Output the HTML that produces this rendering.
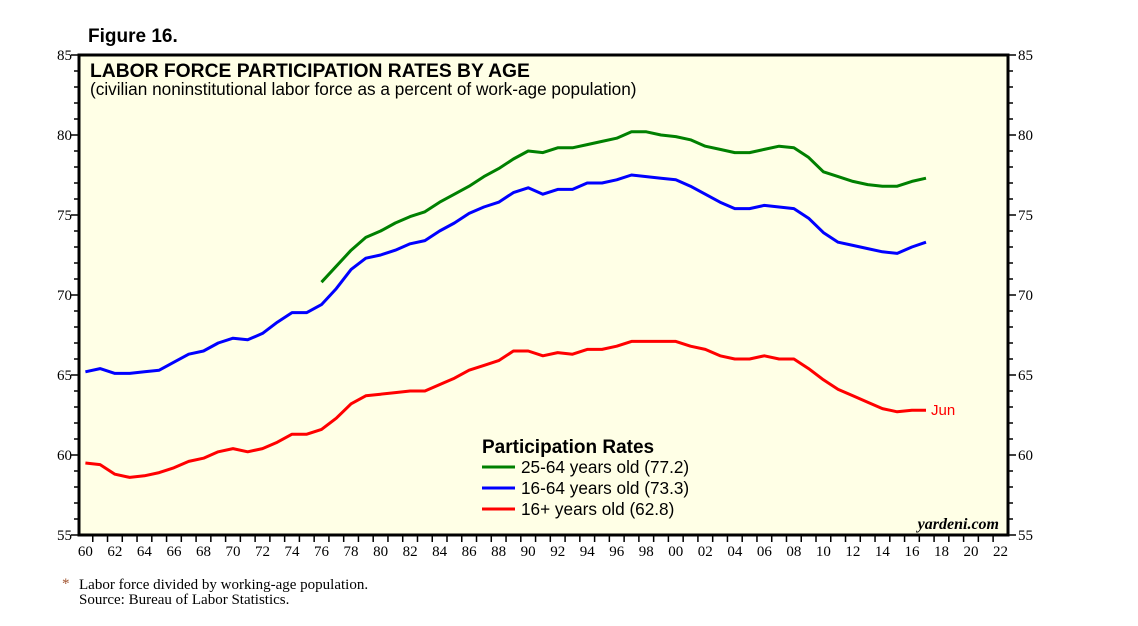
<!DOCTYPE html>
<html><head><meta charset="utf-8"><style>
body{margin:0;background:#fff;}
svg text{font-family:"Liberation Sans",Arial,sans-serif;}
</style></head><body>
<svg id="c" width="1138" height="621" xmlns="http://www.w3.org/2000/svg">
<text x="88" y="42" font-size="19" font-weight="bold">Figure 16.</text>
<rect x="79" y="55" width="929" height="480" fill="#ffffe6" stroke="#000" stroke-width="3"/>
<text x="90" y="77" font-size="19.3" font-weight="bold">LABOR FORCE PARTICIPATION RATES BY AGE</text>
<text x="90" y="95" font-size="17.2">(civilian noninstitutional labor force as a percent of work-age population)</text>
<g id="axes"></g>
<g id="series"></g>
<text x="931" y="415" font-size="15" fill="#ff0000">Jun</text>
<g>
<text x="482" y="453" font-size="19" font-weight="bold">Participation Rates</text>
<line x1="482" y1="467" x2="515" y2="467" stroke="#008000" stroke-width="3"/>
<text x="521" y="473" font-size="17.2">25-64 years old (77.2)</text>
<line x1="482" y1="488" x2="515" y2="488" stroke="#0000ff" stroke-width="3"/>
<text x="521" y="494" font-size="17.2">16-64 years old (73.3)</text>
<line x1="482" y1="509" x2="515" y2="509" stroke="#ff0000" stroke-width="3"/>
<text x="521" y="515" font-size="17.2">16+ years old (62.8)</text>
</g>
<text x="999" y="529" font-size="16" font-style="italic" font-weight="bold" text-anchor="end" style="font-family:'Liberation Serif',serif">yardeni.com</text>
<text x="62" y="588" font-size="15" fill="#a0522d" style="font-family:'Liberation Serif',serif">*</text>
<text x="79" y="589" font-size="15" style="font-family:'Liberation Serif',serif">Labor force divided by working-age population.</text>
<text x="79" y="604" font-size="15" style="font-family:'Liberation Serif',serif">Source: Bureau of Labor Statistics.</text>
</svg>
<script>
const years=[];for(let y=1960;y<=2017;y++)years.push(y);
const red=[59.5,59.4,58.8,58.6,58.7,58.9,59.2,59.6,59.8,60.2,60.4,60.2,60.4,60.8,61.3,61.3,61.6,62.3,63.2,63.7,63.8,63.9,64.0,64.0,64.4,64.8,65.3,65.6,65.9,66.5,66.5,66.2,66.4,66.3,66.6,66.6,66.8,67.1,67.1,67.1,67.1,66.8,66.6,66.2,66.0,66.0,66.2,66.0,66.0,65.4,64.7,64.1,63.7,63.3,62.9,62.7,62.8,62.8];
const blue=[65.2,65.4,65.1,65.1,65.2,65.3,65.8,66.3,66.5,67.0,67.3,67.2,67.6,68.3,68.9,68.9,69.4,70.4,71.6,72.3,72.5,72.8,73.2,73.4,74.0,74.5,75.1,75.5,75.8,76.4,76.7,76.3,76.6,76.6,77.0,77.0,77.2,77.5,77.4,77.3,77.2,76.8,76.3,75.8,75.4,75.4,75.6,75.5,75.4,74.8,73.9,73.3,73.1,72.9,72.7,72.6,73.0,73.3];
const greenYears=[];for(let y=1976;y<=2017;y++)greenYears.push(y);
const green=[70.8,71.8,72.8,73.6,74.0,74.5,74.9,75.2,75.8,76.3,76.8,77.4,77.9,78.5,79.0,78.9,79.2,79.2,79.4,79.6,79.8,80.2,80.2,80.0,79.9,79.7,79.3,79.1,78.9,78.9,79.1,79.3,79.2,78.6,77.7,77.4,77.1,76.9,76.8,76.8,77.1,77.3];
const yTicks=[55,60,65,70,75,80,85];
const xLabels=["60","62","64","66","68","70","72","74","76","78","80","82","84","86","88","90","92","94","96","98","00","02","04","06","08","10","12","14","16","18","20","22"];
const NS="http://www.w3.org/2000/svg";
const X=y=>78+(y-1960)*14.76;
const Y=v=>55+(85-v)*16;
function mk(t,a,p){const e=document.createElementNS(NS,t);for(const k in a)e.setAttribute(k,a[k]);p.appendChild(e);return e;}
const ax=document.getElementById('axes');
for(let v=55;v<=85;v++){const maj=v%5===0;
 const l=mk('line',{x1:79-(maj?8:5),x2:79,y1:Y(v),y2:Y(v),stroke:'#000','stroke-width':1.5},ax);
 
 
 const r=mk('line',{x1:1008,x2:1008+(maj?8:5),y1:Y(v),y2:Y(v),stroke:'#000','stroke-width':1.5},ax);
 
 }
yTicks.forEach(v=>{
 const t=mk('text',{x:72,y:Y(v)+5,'font-size':15,'text-anchor':'end',style:"font-family:'Liberation Serif',serif"},ax);t.textContent=v;
 
 
 const t2=mk('text',{x:1018,y:Y(v)+5,'font-size':15,style:"font-family:'Liberation Serif',serif"},ax);t2.textContent=v;
 
 });
for(let y=1961;y<=2022;y++){const l=mk('line',{x1:X(y),x2:X(y),y1:535,y2:542,stroke:'#000','stroke-width':1.5},ax);
 
 }
xLabels.forEach((s,i)=>{const t=mk('text',{x:X(1960+2*i+0.5),y:556,'font-size':15,'text-anchor':'middle',style:"font-family:'Liberation Serif',serif"},ax);t.textContent=s;
 
 });
const sg=document.getElementById('series');
function line(xs,vs,col,name,end){
 let d='';vs.forEach((v,i)=>{const yr=(i===vs.length-1)?end:xs[i]+0.5;d+=(i?'L':'M')+X(yr).toFixed(1)+','+Y(v).toFixed(1);});
 const p=mk('path',{d:d,fill:'none',stroke:col,'stroke-width':3,'stroke-linejoin':'round'},sg);
 
 }
line(years,red,'#ff0000','series-16plus',2017.45);
line(years,blue,'#0000ff','series-16-64',2017.45);
line(greenYears,green,'#008000','series-25-64',2017.45);
</script>
</body></html>
